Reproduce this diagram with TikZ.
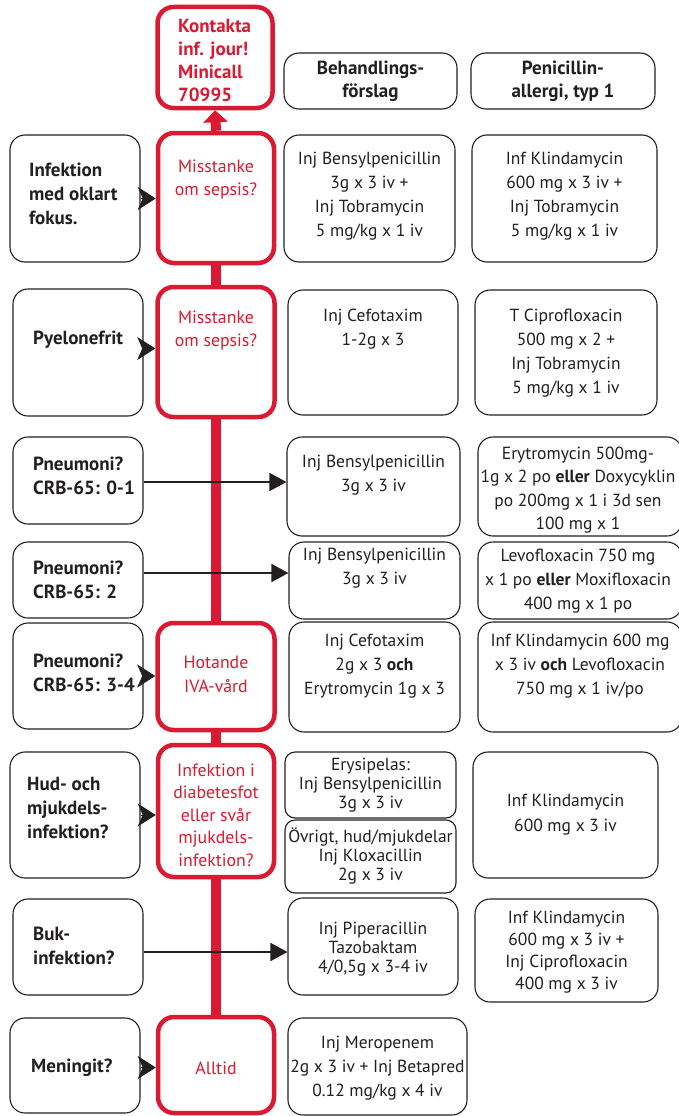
\documentclass[tikz,border=0pt]{standalone}
\usepackage{fontspec}
\setmainfont{PT Sans}
\usetikzlibrary{arrows.meta,backgrounds}
\definecolor{sepsisred}{RGB}{218,26,50}
\definecolor{inkblack}{RGB}{35,31,32}

\begin{document}
\begin{tikzpicture}[>=latex,line join=bevel,x=1pt,y=-1pt,
  box/.style={draw=inkblack,line width=1.1pt,rounded corners=15pt,fill=white},
  redbox/.style={draw=sepsisred,line width=4.5pt,rounded corners=16pt,fill=white},
  lefttext/.style={anchor=west,align=left,inner xsep=0pt,text=inkblack,font=\fontsize{19}{24}\selectfont\bfseries},
  redtext/.style={align=center,text=sepsisred,font=\fontsize{17.8}{23}\selectfont},
  drugtext/.style={align=center,text=inkblack,font=\fontsize{17.5}{24}\selectfont},
  tighttext/.style={align=center,text=inkblack,font=\fontsize{17.5}{19}\selectfont},
  pointer/.style={-{Stealth[length=18pt,width=23pt,inset=5pt]},line width=0.8pt,inkblack},
  leadarrow/.style={-{Triangle[length=17pt,width=18pt]},line width=1.7pt,inkblack},
  redline/.style={line width=10pt,sepsisred},
]
\useasboundingbox (0,0) rectangle (678,1116);
%%
% header
\node (node_kontakta) at (215,57.5) [redbox,minimum width=115pt,minimum height=101pt] {};
\node (node_hdr_1) at (370.5,81) [box,minimum width=173pt,minimum height=56pt] {};
\node (node_hdr_2) at (563,81) [box,minimum width=184pt,minimum height=56pt] {};
% row 1
\node (node_l1) at (75,198.5) [box,minimum width=130pt,minimum height=127pt] {};
\node (node_r1) at (216,198) [redbox,minimum width=116pt,minimum height=130pt] {};
\node (node_t1) at (369.5,198.5) [box,minimum width=171pt,minimum height=127pt] {};
\node (node_a1) at (564.5,198.5) [box,minimum width=185pt,minimum height=127pt] {};
% row 2
\node (node_l2) at (78,352.5) [box,minimum width=130pt,minimum height=127pt] {};
\node (node_r2) at (216,352) [redbox,minimum width=117pt,minimum height=130pt] {};
\node (node_t2) at (373,352.5) [box,minimum width=170pt,minimum height=125pt] {};
\node (node_a2) at (566,352.5) [box,minimum width=182pt,minimum height=125pt] {};
% row 3
\node (node_l3) at (78,480.5) [box,minimum width=130pt,minimum height=87pt] {};
\node (node_t3) at (373.5,486.5) [box,minimum width=173pt,minimum height=99pt] {};
\node (node_a3) at (580,486.5) [box,minimum width=204pt,minimum height=99pt] {};
% row 4
\node (node_l4) at (78,580) [box,minimum width=130pt,minimum height=76pt] {};
\node (node_t4) at (374.5,580.5) [box,minimum width=171pt,minimum height=77pt] {};
\node (node_a4) at (580,580.5) [box,minimum width=204pt,minimum height=77pt] {};
% row 5
\node (node_l5) at (78,676) [box,minimum width=130pt,minimum height=106pt] {};
\node (node_r5) at (216,676.5) [redbox,minimum width=117pt,minimum height=107pt] {};
\node (node_t5) at (374.5,677) [box,minimum width=171pt,minimum height=110pt] {};
\node (node_a5) at (580,677) [box,minimum width=204pt,minimum height=110pt] {};
% row 6
\node (node_l6) at (75,815) [box,minimum width=130pt,minimum height=126pt] {};
\node (node_r6) at (216,811) [redbox,minimum width=116pt,minimum height=132pt] {};
\node (node_t6a) at (370.5,785) [box,rounded corners=10pt,minimum width=171pt,minimum height=66pt] {};
\node (node_t6b) at (370.5,856.5) [box,rounded corners=10pt,minimum width=171pt,minimum height=73pt] {};
\node (node_a6) at (565.5,815) [box,minimum width=185pt,minimum height=126pt] {};
% row 7
\node (node_l7) at (78,947) [box,minimum width=130pt,minimum height=96pt] {};
\node (node_t7) at (373,946.5) [box,minimum width=170pt,minimum height=97pt] {};
\node (node_a7) at (566.5,950.5) [box,minimum width=183pt,minimum height=103pt] {};
% row 8
\node (node_l8) at (75,1065.5) [box,minimum width=130pt,minimum height=95pt] {};
\node (node_r8) at (216,1065) [redbox,minimum width=116pt,minimum height=96pt] {};
\node (node_t8) at (377.5,1066.5) [box,minimum width=179pt,minimum height=97pt] {};
%
% texts
\node (text_kontakta) at (178,60) [lefttext,text=sepsisred,font=\fontsize{19}{23}\selectfont\bfseries] {Kontakta\\inf. jour!\\Minicall\\70995};
\node (text_hdr_1) at (370.5,81) [drugtext,font=\fontsize{19}{23}\selectfont\bfseries] {Behandlings-\\förslag};
\node (text_hdr_2) at (563,81) [drugtext,font=\fontsize{19}{23}\selectfont\bfseries] {Penicillin-\\allergi, typ 1};
\node (text_l1) at (29,194) [lefttext] {Infektion\\med oklart\\fokus.};
\node (text_r1) at (216,179) [redtext] {Misstanke\\om sepsis?};
\node (text_t1) at (369.5,196) [drugtext] {Inj Bensylpenicillin\\3g x 3 iv +\\Inj Tobramycin\\5 mg/kg x 1 iv};
\node (text_a1) at (564.5,196) [drugtext] {Inf Klindamycin\\600 mg x 3 iv +\\Inj Tobramycin\\5 mg/kg x 1 iv};
\node (text_l2) at (33,340) [lefttext] {Pyelonefrit};
\node (text_r2) at (216,330) [redtext] {Misstanke\\om sepsis?};
\node (text_t2) at (373,329) [drugtext] {Inj Cefotaxim\\1-2g x 3};
\node (text_a2) at (566,353) [drugtext] {T Ciprofloxacin\\500 mg x 2 +\\Inj Tobramycin\\5 mg/kg x 1 iv};
\node (text_l3) at (33,476) [lefttext] {Pneumoni?\\CRB-65: 0-1};
\node (text_t3) at (373.5,475) [drugtext] {Inj Bensylpenicillin\\3g x 3 iv};
\node (text_a3) at (578,490) [drugtext,font=\fontsize{17.5}{23.3}\selectfont] {Erytromycin 500mg-\\1g x 2 po \textbf{eller} Doxycyklin\\po 200mg x 1 i 3d sen\\100 mg x 1};
\node (text_l4) at (33,580) [lefttext] {Pneumoni?\\CRB-65: 2};
\node (text_t4) at (374.5,568) [drugtext] {Inj Bensylpenicillin\\3g x 3 iv};
\node (text_a4) at (578,581) [drugtext] {Levofloxacin 750 mg\\x 1 po \textbf{eller} Moxifloxacin\\400 mg x 1 po};
\node (text_l5) at (33,673) [lefttext] {Pneumoni?\\CRB-65: 3-4};
\node (text_r5) at (216,674) [redtext,font=\fontsize{17.8}{24}\selectfont] {Hotande\\IVA-vård};
\node (text_t5) at (374.5,666) [drugtext] {Inj Cefotaxim\\2g x 3 \textbf{och}\\Erytromycin 1g x 3};
\node (text_a5) at (580,666) [drugtext] {Inf Klindamycin 600 mg\\x 3 iv \textbf{och} Levofloxacin\\750 mg x 1 iv/po};
\node (text_l6) at (27,808) [lefttext] {Hud- och\\mjukdels-\\infektion?};
\node (text_r6) at (216,815) [redtext,font=\fontsize{17.8}{22.5}\selectfont] {Infektion i\\diabetesfot\\eller svår\\mjukdels-\\infektion?};
\node (text_t6a) at (370.5,785) [tighttext] {Erysipelas:\\Inj Bensylpenicillin\\3g x 3 iv};
\node (text_t6b) at (370.5,856) [tighttext] {Övrigt, hud/mjukdelar\\Inj Kloxacillin\\2g x 3 iv};
\node (text_a6) at (565.5,815) [drugtext,font=\fontsize{17.5}{25}\selectfont] {Inf Klindamycin\\600 mg x 3 iv};
\node (text_l7) at (33,946) [lefttext] {Buk-\\infektion?};
\node (text_t7) at (373,949) [tighttext] {Inj Piperacillin\\Tazobaktam\\4/0,5g x 3-4 iv};
\node (text_a7) at (566.5,952) [drugtext,font=\fontsize{17.5}{22}\selectfont] {Inf Klindamycin\\600 mg x 3 iv +\\Inj Ciprofloxacin\\400 mg x 3 iv};
\node (text_l8) at (31,1068) [lefttext] {Meningit?};
\node (text_r8) at (216,1068) [redtext] {Alltid};
\node (text_t8) at (377.5,1068) [drugtext] {Inj Meropenem\\2g x 3 iv + Inj Betapred\\0.12 mg/kg x 4 iv};
%
% red spine
\begin{scope}[on background layer]
  \draw [redline,-{Triangle[length=12pt,width=24pt]}] (node_r1.north) -- (node_kontakta.south);
  \draw [redline] (node_r1.south) -- (node_r8.north);
\end{scope}
%
% arrows
\draw [pointer] (node_l1.east) -- (node_l1.east -| node_r1.west);
\draw [pointer] ([yshift=4pt]node_l2.east) -- ([yshift=4pt]node_l2.east -| node_r2.west);
\draw [pointer] (node_l5.east) -- (node_l5.east -| node_r5.west);
\draw [pointer] (node_l6.east) -- (node_l6.east -| node_r6.west);
\draw [pointer] ([yshift=-2pt]node_l8.east) -- ([yshift=-2pt]node_l8.east -| node_r8.west);
\draw [leadarrow] ([yshift=-1.5pt]node_l3.east) -- ([yshift=-1.5pt]node_l3.east -| node_t3.west);
\draw [leadarrow] ([yshift=7pt]node_l4.east) -- ([yshift=7pt]node_l4.east -| node_t4.west);
\draw [leadarrow] ([yshift=-5pt]node_l7.east) -- ([yshift=-5pt]node_l7.east -| node_t7.west);
%
\end{tikzpicture}
\end{document}
